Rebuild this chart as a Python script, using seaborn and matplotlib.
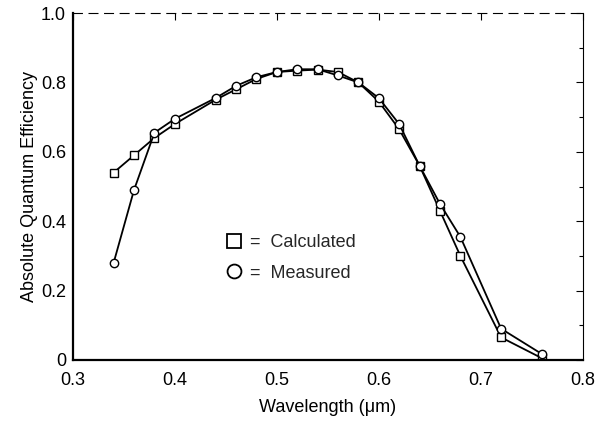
"""
Absolute quantum efficiency vs wavelength: calculated vs measured.
"""
import matplotlib
matplotlib.use('Agg')
import matplotlib.pyplot as plt
from matplotlib.lines import Line2D
from matplotlib.ticker import MultipleLocator, FixedFormatter, FixedLocator
import seaborn as sns
import pandas as pd

wavelength = [0.34, 0.36, 0.38, 0.40, 0.44, 0.46, 0.48, 0.50, 0.52, 0.54,
              0.56, 0.58, 0.60, 0.62, 0.64, 0.66, 0.68, 0.72, 0.76]
calculated = [0.54, 0.59, 0.64, 0.68, 0.75, 0.78, 0.81, 0.83, 0.834, 0.837,
              0.83, 0.80, 0.745, 0.665, 0.56, 0.43, 0.30, 0.065, 0.005]
measured = [0.28, 0.49, 0.655, 0.695, 0.755, 0.79, 0.815, 0.83, 0.838, 0.838,
            0.82, 0.80, 0.755, 0.68, 0.56, 0.45, 0.355, 0.09, 0.017]

x_ticks = [0.3, 0.4, 0.5, 0.6, 0.7, 0.8]
y_ticks = [0, 0.2, 0.4, 0.6, 0.8, 1.0]
y_tick_labels = ['0', '0.2', '0.4', '0.6', '0.8', '1.0']

df = pd.DataFrame({
    'Wavelength': wavelength * 2,
    'QE': calculated + measured,
    'Series': ['Calculated'] * len(wavelength) + ['Measured'] * len(wavelength),
})

sns.set_theme(style='white')
plt.rcParams['font.family'] = ['Liberation Sans', 'DejaVu Sans']

fig = plt.figure(figsize=(6.07, 4.21), dpi=100)
ax = fig.add_axes([0.12, 0.145, 0.84, 0.824])

sns.lineplot(data=df, x='Wavelength', y='QE', hue='Series', style='Series',
             markers={'Calculated': 's', 'Measured': 'o'}, dashes=False,
             palette={'Calculated': 'black', 'Measured': 'black'},
             markerfacecolor='white', markeredgecolor='black', markeredgewidth=1.0,
             markersize=6, linewidth=1.3, legend=False, ax=ax)

ax.set_xlim(0.3, 0.8)
ax.set_ylim(0, 1.0)
ax.xaxis.set_major_locator(FixedLocator(x_ticks))
ax.yaxis.set_major_locator(FixedLocator(y_ticks))
ax.yaxis.set_major_formatter(FixedFormatter(y_tick_labels))
ax.yaxis.set_minor_locator(MultipleLocator(0.1))
ax.tick_params(which='both', direction='in', top=True, right=True, labelsize=13,
               colors='black', width=0.8)
ax.tick_params(which='major', length=5)
ax.tick_params(which='minor', length=3)
ax.tick_params(axis='x', pad=9)
ax.tick_params(axis='y', pad=5)

for side in ['left', 'bottom']:
    ax.spines[side].set_linewidth(1.6)
    ax.spines[side].set_color('black')
ax.spines['right'].set_linewidth(0.8)
ax.spines['right'].set_color('black')
ax.spines['top'].set_linewidth(0.8)
ax.spines['top'].set_color('black')
ax.spines['top'].set_linestyle((0, (8, 6)))

ax.set_xlabel('Wavelength (\u03bcm)', fontsize=13, color='black', labelpad=7)
ax.set_ylabel('Absolute Quantum Efficiency', fontsize=13, color='black', labelpad=2)

handles = [
    Line2D([], [], marker='s', linestyle='none', markersize=10,
           markerfacecolor='white', markeredgecolor='black', markeredgewidth=1.3),
    Line2D([], [], marker='o', linestyle='none', markersize=10,
           markerfacecolor='white', markeredgecolor='black', markeredgewidth=1.3),
]
ax.legend(handles, ['=  Calculated', '=  Measured'], loc='upper left',
          bbox_to_anchor=(0.27, 0.41), frameon=False, fontsize=13,
          handlelength=0.8, handletextpad=0.5, labelspacing=0.75)

plt.savefig('out.png', dpi=100)
plt.close()
